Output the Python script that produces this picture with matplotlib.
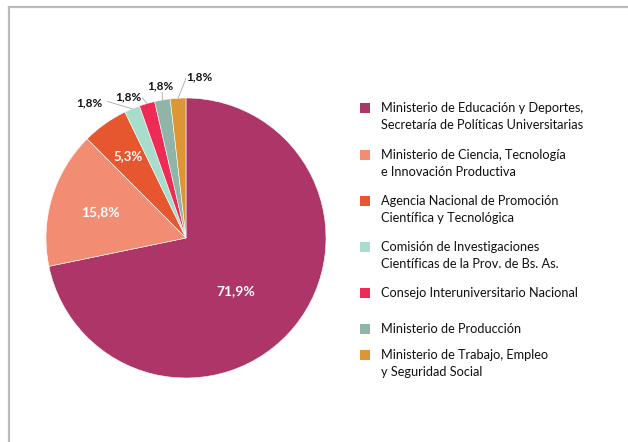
import numpy as np
import matplotlib.pyplot as plt
from matplotlib.patches import Rectangle
from matplotlib.lines import Line2D

plt.rcParams['font.family'] = ['Lato', 'DejaVu Sans']

categories = [
    "Ministerio de Educación y Deportes,\nSecretaría de Políticas Universitarias",
    "Ministerio de Ciencia, Tecnología\ne Innovación Productiva",
    "Agencia Nacional de Promoción\nCientífica y Tecnológica",
    "Comisión de Investigaciones\nCientíficas de la Prov. de Bs. As.",
    "Consejo Interuniversitario Nacional",
    "Ministerio de Producción",
    "Ministerio de Trabajo, Empleo\ny Seguridad Social",
]
values = [71.9, 15.8, 5.3, 1.8, 1.8, 1.8, 1.8]
labels = ["71,9%", "15,8%", "5,3%", "1,8%", "1,8%", "1,8%", "1,8%"]
colors = ["#AD3567", "#F28C73", "#E6562F", "#A8DCCB", "#EE2B55", "#8FB5A8", "#DD9635"]

W, H = 628, 442
fig = plt.figure(figsize=(W / 100, H / 100), dpi=100)

# gray frame (clipped at right and bottom)
fig.add_artist(Line2D([9 / W, 9 / W], [0, 1 - 7 / H], color="#BBBBBB", lw=1.6))
fig.add_artist(Line2D([9 / W, 1], [1 - 7 / H, 1 - 7 / H], color="#BBBBBB", lw=1.6))

# pie: centre (186, 238) px, radius 140 px
cx, cy, r = 186, 238, 140
ax = fig.add_axes([(cx - r) / W, (H - cy - r) / H, 2 * r / W, 2 * r / H])
wedges, _ = ax.pie(values, colors=colors, startangle=90, counterclock=False,
                   radius=1, wedgeprops=dict(edgecolor="white", linewidth=0.4))
ax.set_xlim(-1, 1)
ax.set_ylim(-1, 1)
ax.axis("off")

# inside labels
inside = {0: (0.52, 10), 1: (0.64, 10), 2: (0.72, 9.5)}
for i, (dist, fs) in inside.items():
    w = wedges[i]
    ang = np.deg2rad((w.theta1 + w.theta2) / 2)
    ax.text(dist * np.cos(ang) - (0.05 if i == 0 else 0), dist * np.sin(ang) - (0.05 if i == 0 else 0),
            labels[i], ha="center", va="center", color="white",
            fontsize=fs, fontweight="bold")

# outside labels with leader lines
outside_pos = [(-0.69, 0.965), (-0.41, 1.01), (-0.18, 1.09), (0.095, 1.15)]
text_ends = [(-0.56, 0.975), (-0.31, 1.0), (-0.17, 1.04), (0.0, 1.14)]
for k, i in enumerate(range(3, 7)):
    w = wedges[i]
    ang = np.deg2rad((w.theta1 + w.theta2) / 2)
    x0, y0 = np.cos(ang), np.sin(ang)
    ex, ey = text_ends[k]
    ax.plot([x0, ex], [y0, ey], color="#AAAAAA", lw=0.6, clip_on=False)
    tx, ty = outside_pos[k]
    ax.text(tx, ty, labels[i], ha="center", va="center", color="#111111",
            fontsize=8.5, fontweight="bold", clip_on=False)

# legend drawn manually
leg_y = [108, 155, 201, 247, 293, 329, 355]
for c, lab, y in zip(colors, categories, leg_y):
    fig.add_artist(Rectangle((360 / W, 1 - (y + 5) / H), 10 / W, 10 / H,
                             transform=fig.transFigure, facecolor=c, edgecolor="none"))
    fig.text(381 / W, 1 - (y - 6) / H, lab, ha="left", va="top",
             fontsize=9.2, color="#111111", linespacing=1.45)

fig.savefig("out.png", dpi=100)
